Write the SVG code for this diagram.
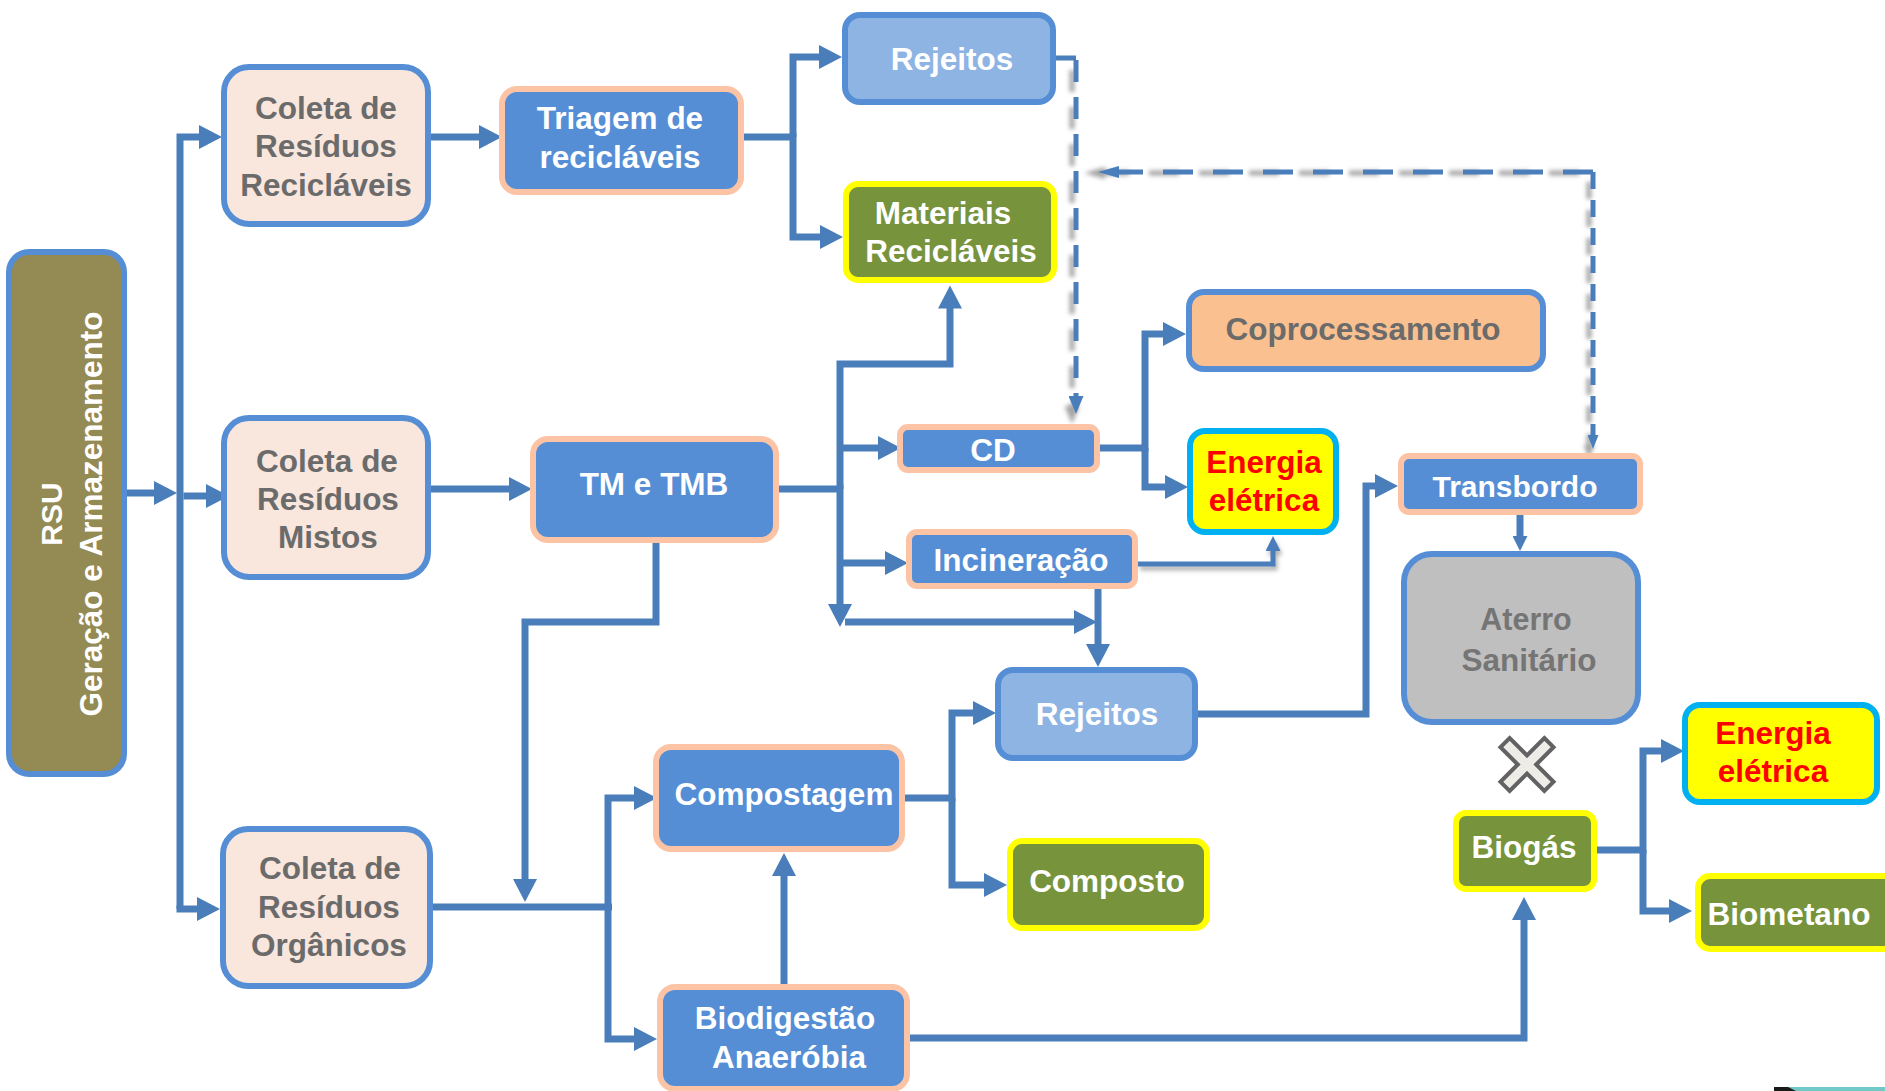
<svg xmlns="http://www.w3.org/2000/svg" width="1885" height="1091" viewBox="0 0 1885 1091">
<style>
.ln{fill:none;stroke:#4A7EBB;stroke-width:7;stroke-linejoin:miter}
.thin{fill:none;stroke:#4A7EBB;stroke-width:5}
.dash{fill:none;stroke:#4A7EBB;stroke-width:5}
.t{font-family:"Liberation Sans",Arial,sans-serif;font-weight:bold;font-size:31.5px;text-anchor:middle}
.w{fill:#FFFFFF}.g{fill:#6B6B6B}.r{fill:#FF0000}.ga{fill:#757575}
.coleta{fill:#F9E6DD;stroke:#558ED5;stroke-width:6}
.proc{fill:#558ED5;stroke:#FCC3A4;stroke-width:6}
.rej{fill:#8EB4E3;stroke:#558ED5;stroke-width:6}
.prod{fill:#77933C;stroke:#FFFF00;stroke-width:6}
.en{fill:#FFFF00;stroke:#00B0F0;stroke-width:6}
</style>
<defs>
<marker id="a" markerUnits="userSpaceOnUse" markerWidth="24" markerHeight="24" refX="1" refY="12" orient="auto"><path d="M0,0 L23,12 L0,24 z" fill="#4A7EBB"/></marker>
<marker id="s" markerUnits="userSpaceOnUse" markerWidth="15" markerHeight="15" refX="1" refY="7.5" orient="auto"><path d="M0,0 L15,7.5 L0,15 z" fill="#4A7EBB"/></marker>
<marker id="s2" markerUnits="userSpaceOnUse" markerWidth="18" markerHeight="15" refX="1" refY="7.5" orient="auto"><path d="M0,0 L18,7.5 L0,15 z" fill="#4A7EBB"/></marker>
<marker id="sd" markerUnits="userSpaceOnUse" markerWidth="14" markerHeight="11" refX="1" refY="5.5" orient="auto"><path d="M0,0 L14,5.5 L0,11 z" fill="#4A7EBB"/></marker>
<marker id="sl" markerUnits="userSpaceOnUse" markerWidth="21" markerHeight="12" refX="1" refY="6" orient="auto"><path d="M0,0 L21,6 L0,12 z" fill="#4A7EBB"/></marker>
<filter id="shv" filterUnits="userSpaceOnUse" x="0" y="0" width="1885" height="1091"><feDropShadow dx="-4" dy="10" stdDeviation="2" flood-color="#7F7F7F" flood-opacity="0.7"/></filter>
<filter id="shh" filterUnits="userSpaceOnUse" x="0" y="0" width="1885" height="1091"><feDropShadow dx="-14" dy="1" stdDeviation="2" flood-color="#7F7F7F" flood-opacity="0.7"/></filter>
<filter id="shs" filterUnits="userSpaceOnUse" x="0" y="0" width="1885" height="1091"><feDropShadow dx="2" dy="4" stdDeviation="2" flood-color="#7F7F7F" flood-opacity="0.6"/></filter>
</defs>

<g id="connectors">
<path class="ln" d="M127,493 H155" marker-end="url(#a)"/>
<path class="ln" d="M180,909 V137 H200" marker-end="url(#a)"/>
<path class="ln" d="M176.5,909 H198" marker-end="url(#a)"/>
<path class="ln" d="M183.5,496 H207" marker-end="url(#a)"/>
<path class="ln" d="M431,137 H480" marker-end="url(#a)"/>
<path class="ln" d="M431,489 H510" marker-end="url(#a)"/>
<path class="ln" d="M793,137 V57 H820" marker-end="url(#a)"/>
<path class="ln" d="M744,137 H793 V237 H821" marker-end="url(#a)"/>
<path class="ln" d="M840,489 V364 H950 V307.5" marker-end="url(#a)"/>
<path class="ln" d="M840,448 H879" marker-end="url(#a)"/>
<path class="ln" d="M779,489 H840 V605" marker-end="url(#a)"/>
<path class="ln" d="M840,563 H886" marker-end="url(#a)"/>
<path class="ln" d="M845,622 H1075" marker-end="url(#a)"/>
<path class="ln" d="M1098,589 V645" marker-end="url(#a)"/>
<path class="ln" d="M1100,448 H1145 V334 H1164" marker-end="url(#a)"/>
<path class="ln" d="M1145,448 V487 H1166" marker-end="url(#a)"/>
<path class="thin" d="M1138,564 H1273 V550" marker-end="url(#s)" filter="url(#shs)"/>
<path class="ln" d="M1198,714 H1366 V486 H1376" marker-end="url(#a)"/>
<path class="ln" d="M1520,515 V537" marker-end="url(#s)"/>
<path class="ln" d="M656,543 V622 H525 V880" marker-end="url(#a)"/>
<path class="ln" d="M433,907 H612"/>
<path class="ln" d="M608,907 V798 H635" marker-end="url(#a)"/>
<path class="ln" d="M608,907 V1039 H635" marker-end="url(#a)"/>
<path class="ln" d="M905,798 H952 V713 H974" marker-end="url(#a)"/>
<path class="ln" d="M952,798 V885 H985" marker-end="url(#a)"/>
<path class="ln" d="M784,984 V875" marker-end="url(#a)"/>
<path class="ln" d="M910,1038 H1524 V919" marker-end="url(#a)"/>
<path class="ln" d="M1597,850 H1643 V751 H1662" marker-end="url(#a)"/>
<path class="ln" d="M1643,850 V911 H1670" marker-end="url(#a)"/>
<path class="dash" d="M1056,58 H1076"/>
<path class="dash" d="M1076,60 V397" stroke-dasharray="22 15" marker-end="url(#s2)" filter="url(#shv)"/>
<path class="dash" d="M1593,172 V436" stroke-dasharray="17 11" marker-end="url(#sd)" filter="url(#shv)"/>
<path class="dash" d="M1593,172 H1118" stroke-dasharray="30 20" marker-end="url(#sl)" filter="url(#shh)"/>
</g>

<g id="rsu">
<rect x="9" y="252" width="115" height="522" rx="20" fill="#948A54" stroke="#558ED5" stroke-width="6"/>
<text class="t w" transform="translate(62,514) rotate(-90)" style="font-size:30px">RSU</text>
<text class="t w" transform="translate(102,514) rotate(-90)">Geração e Armazenamento</text>
</g>

<g id="coleta-reciclaveis">
<rect class="coleta" x="224" y="67" width="204" height="157" rx="25"/>
<text class="t g" x="326" y="119">Coleta de</text>
<text class="t g" x="326" y="157">Resíduos</text>
<text class="t g" x="326" y="196">Recicláveis</text>
</g>

<g id="coleta-mistos">
<rect class="coleta" x="224" y="418" width="204" height="159" rx="25"/>
<text class="t g" x="327" y="472">Coleta de</text>
<text class="t g" x="328" y="510">Resíduos</text>
<text class="t g" x="328" y="548">Mistos</text>
</g>

<g id="coleta-organicos">
<rect class="coleta" x="223" y="829" width="207" height="157" rx="25"/>
<text class="t g" x="330" y="879">Coleta de</text>
<text class="t g" x="329" y="918">Resíduos</text>
<text class="t g" x="329" y="956">Orgânicos</text>
</g>

<g id="triagem">
<rect class="proc" x="502" y="89" width="239" height="103" rx="15"/>
<text class="t w" x="620" y="129">Triagem de</text>
<text class="t w" x="620" y="168">recicláveis</text>
</g>

<g id="tm-tmb">
<rect class="proc" x="533" y="439" width="243" height="101" rx="15"/>
<text class="t w" x="654" y="495">TM e TMB</text>
</g>

<g id="rejeitos-1">
<rect class="rej" x="845" y="15" width="208" height="87" rx="15"/>
<text class="t w" x="952" y="70">Rejeitos</text>
</g>

<g id="materiais-reciclaveis">
<rect class="prod" x="846" y="184" width="208" height="96" rx="12"/>
<text class="t w" x="943" y="224">Materiais</text>
<text class="t w" x="951" y="262">Recicláveis</text>
</g>

<g id="coprocessamento">
<rect x="1189" y="292" width="354" height="77" rx="15" fill="#FAC090" stroke="#558ED5" stroke-width="6"/>
<text class="t g" x="1363" y="340">Coprocessamento</text>
</g>

<g id="cd">
<rect class="proc" x="900" y="427" width="197" height="43" rx="8"/>
<text class="t w" x="993" y="461">CD</text>
</g>

<g id="energia-1">
<rect class="en" x="1190" y="431" width="146" height="101" rx="15"/>
<text class="t r" x="1264" y="473">Energia</text>
<text class="t r" x="1264" y="511">elétrica</text>
</g>

<g id="incineracao">
<rect class="proc" x="909" y="532" width="226" height="54" rx="8"/>
<text class="t w" x="1021" y="571">Incineração</text>
</g>

<g id="rejeitos-2">
<rect class="rej" x="998" y="670" width="197" height="88" rx="15"/>
<text class="t w" x="1097" y="725">Rejeitos</text>
</g>

<g id="compostagem">
<rect class="proc" x="656" y="747" width="246" height="102" rx="15"/>
<text class="t w" x="784" y="805">Compostagem</text>
</g>

<g id="composto">
<rect class="prod" x="1010" y="841" width="197" height="87" rx="12"/>
<text class="t w" x="1107" y="892">Composto</text>
</g>

<g id="biodigestao">
<rect class="proc" x="660" y="987" width="247" height="102" rx="15"/>
<text class="t w" x="785" y="1029">Biodigestão</text>
<text class="t w" x="789" y="1068">Anaeróbia</text>
</g>

<g id="transbordo">
<rect class="proc" x="1401" y="456" width="239" height="56" rx="8"/>
<text class="t w" x="1515" y="497" style="font-size:30px">Transbordo</text>
</g>

<g id="aterro">
<rect x="1404" y="554" width="234" height="168" rx="28" fill="#BFBFBF" stroke="#558ED5" stroke-width="6"/>
<text class="t ga" x="1526" y="630" style="font-size:30.5px">Aterro</text>
<text class="t ga" x="1529" y="671">Sanitário</text>
</g>

<g id="x-mark">
<polygon transform="translate(1527,764.5) rotate(45)" points="-6.5,-31 6.5,-31 6.5,-6.5 31,-6.5 31,6.5 6.5,6.5 6.5,31 -6.5,31 -6.5,6.5 -31,6.5 -31,-6.5 -6.5,-6.5" fill="#EEECE6" stroke="#626262" stroke-width="4"/>
</g>

<g id="biogas">
<rect class="prod" x="1456" y="813" width="138" height="76" rx="10"/>
<text class="t w" x="1524" y="858">Biogás</text>
</g>

<g id="energia-2">
<rect class="en" x="1685" y="705" width="192" height="97" rx="15"/>
<text class="t r" x="1773" y="744">Energia</text>
<text class="t r" x="1773" y="782">elétrica</text>
</g>

<g id="biometano">
<rect class="prod" x="1698" y="876" width="200" height="73" rx="12"/>
<text class="t w" x="1789" y="925">Biometano</text>
</g>

<polygon points="1786,1087 1885,1087 1885,1091 1786,1091" fill="#70C8C8"/>
<polygon points="1774,1087 1788,1087 1796,1091 1774,1091" fill="#1A1A1A"/>
</svg>
